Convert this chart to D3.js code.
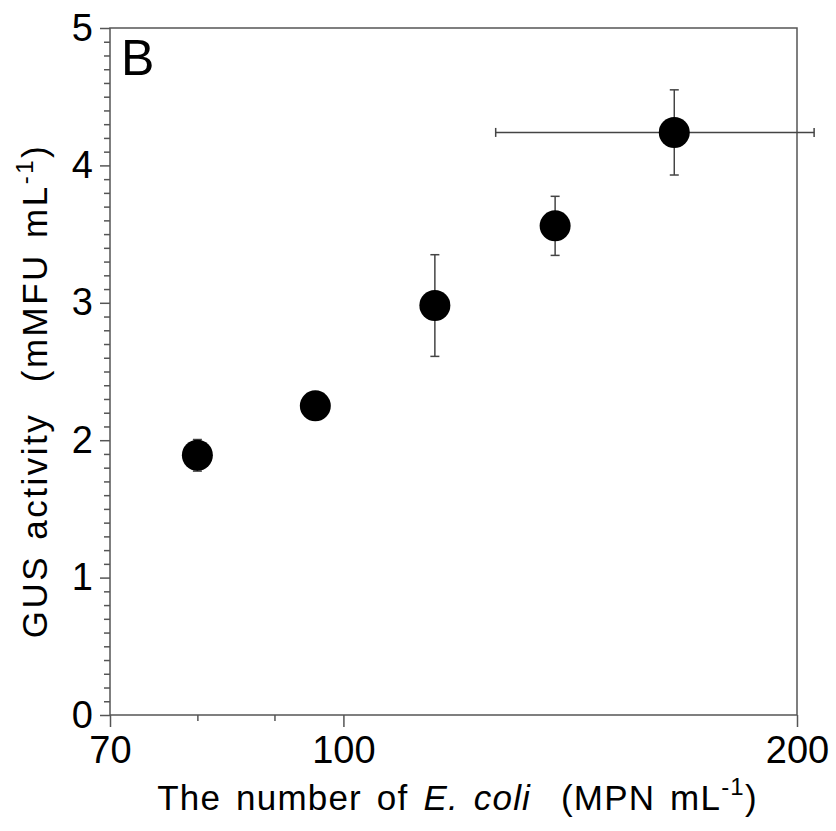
<!DOCTYPE html>
<html>
<head>
<meta charset="utf-8">
<script src="https://cdn.jsdelivr.net/npm/d3@7"></script>
<style>
  html, body { margin: 0; padding: 0; background: #fff; }
  svg { display: block; }
  text { font-family: "Liberation Sans", Arial, sans-serif; fill: #000; }
</style>
</head>
<body>
<svg id="chart" width="836" height="831"></svg>
<script>
// ---- data ----
const ecoli   = [80, 95.8, 115, 138.2, 165.8];
const gus     = [1.89, 2.25, 2.98, 3.56, 4.24];
const gusErr  = [0.115, 0.06, 0.37, 0.215, 0.31];
const ecoliLo = [null, null, null, null, 126.2];
const ecoliHi = [null, null, null, null, 205.3];
const xMajorTicks = [70, 100, 200];
const xMinorTicks = [80, 90];
const yMajorTicks = [0, 1, 2, 3, 4, 5];

const svg = d3.select("#chart");
const L = 110, R = 797, T = 28, B = 715;

const x = d3.scaleLog().domain([70, 200]).range([L, R]);
const y = d3.scaleLinear().domain([0, 5]).range([B, T]);

const axisColor = "#555";

// frame
svg.append("rect").attr("x", L).attr("y", T).attr("width", R - L).attr("height", B - T)
  .attr("fill", "none").attr("stroke", axisColor).attr("stroke-width", 1.5);

// x axis
const gx = svg.append("g").attr("transform", `translate(0,${B})`);
gx.call(d3.axisBottom(x).tickValues(xMajorTicks).tickSize(12).tickPadding(9).tickFormat(d3.format("d")));
gx.select(".domain").remove();
gx.selectAll(".tick line").attr("stroke", axisColor).attr("stroke-width", 1.5);
gx.selectAll(".tick text").attr("font-size", 38).attr("font-family", "Liberation Sans, Arial, sans-serif").attr("fill", "#000");
const gxm = svg.append("g").attr("transform", `translate(0,${B})`);
gxm.call(d3.axisBottom(x).tickValues(xMinorTicks).tickSize(6).tickFormat(""));
gxm.select(".domain").remove();
gxm.selectAll(".tick line").attr("stroke", axisColor).attr("stroke-width", 1.5);

// y axis
const gy = svg.append("g").attr("transform", `translate(${L},0)`);
gy.call(d3.axisLeft(y).tickValues(yMajorTicks).tickSize(10).tickPadding(7).tickFormat(d3.format("d")));
gy.select(".domain").remove();
gy.selectAll(".tick line").attr("stroke", axisColor).attr("stroke-width", 1.5);
gy.selectAll(".tick text").attr("font-size", 38).attr("font-family", "Liberation Sans, Arial, sans-serif").attr("fill", "#000");
const yMinor = d3.range(0, 51).map(i => i / 10).filter(v => Math.abs(v - Math.round(v)) > 1e-9);
const gym = svg.append("g").attr("transform", `translate(${L},0)`);
gym.call(d3.axisLeft(y).tickValues(yMinor).tickSize(6).tickFormat(""));
gym.select(".domain").remove();
gym.selectAll(".tick line").attr("stroke", axisColor).attr("stroke-width", 1.5);

// error bars
const errColor = "#444";
const cap = 4.5;
const pts = ecoli.map((v, i) => ({x: v, y: gus[i], e: gusErr[i], lo: ecoliLo[i], hi: ecoliHi[i]}));
const eg = svg.append("g").attr("stroke", errColor).attr("stroke-width", 1.5);
pts.forEach(p => {
  const cx = x(p.x);
  eg.append("line").attr("x1", cx).attr("x2", cx).attr("y1", y(p.y - p.e)).attr("y2", y(p.y + p.e));
  [p.y - p.e, p.y + p.e].forEach(v => {
    eg.append("line").attr("x1", cx - cap).attr("x2", cx + cap).attr("y1", y(v)).attr("y2", y(v));
  });
  if (p.lo != null) {
    const cy = y(p.y);
    eg.append("line").attr("x1", x(p.lo)).attr("x2", x(p.hi)).attr("y1", cy).attr("y2", cy);
    [p.lo, p.hi].forEach(v => {
      eg.append("line").attr("x1", x(v)).attr("x2", x(v)).attr("y1", cy - cap).attr("y2", cy + cap);
    });
  }
});

// markers
svg.append("g").selectAll("circle").data(pts).join("circle")
  .attr("cx", d => x(d.x)).attr("cy", d => y(d.y)).attr("r", 15.5).attr("fill", "#000");

// panel label
svg.append("text").attr("x", 121).attr("y", 75).attr("font-size", 50).text("B");

// x label
const xl = svg.append("text").attr("x", (163 + 752) / 2).attr("y", 810).attr("text-anchor", "middle")
  .attr("font-size", 35).attr("letter-spacing", 1.2).attr("word-spacing", 4).attr("xml:space", "preserve");
xl.append("tspan").text("The number of ");
xl.append("tspan").attr("font-style", "italic").text("E. coli");
xl.append("tspan").text("  (MPN mL");
xl.append("tspan").attr("font-size", 24).attr("dy", -15).text("-1");
xl.append("tspan").attr("dy", 15).text(")");

// y label
const yl = svg.append("text").attr("transform", "translate(47,391) rotate(-90)").attr("text-anchor", "middle")
  .attr("font-size", 35).attr("letter-spacing", 2.5).attr("word-spacing", 3).attr("xml:space", "preserve");
yl.append("tspan").text("GUS activity  (mMFU mL");
yl.append("tspan").attr("font-size", 24).attr("dy", -14).text("-1");
yl.append("tspan").attr("dy", 14).text(")");
</script>
</body>
</html>
